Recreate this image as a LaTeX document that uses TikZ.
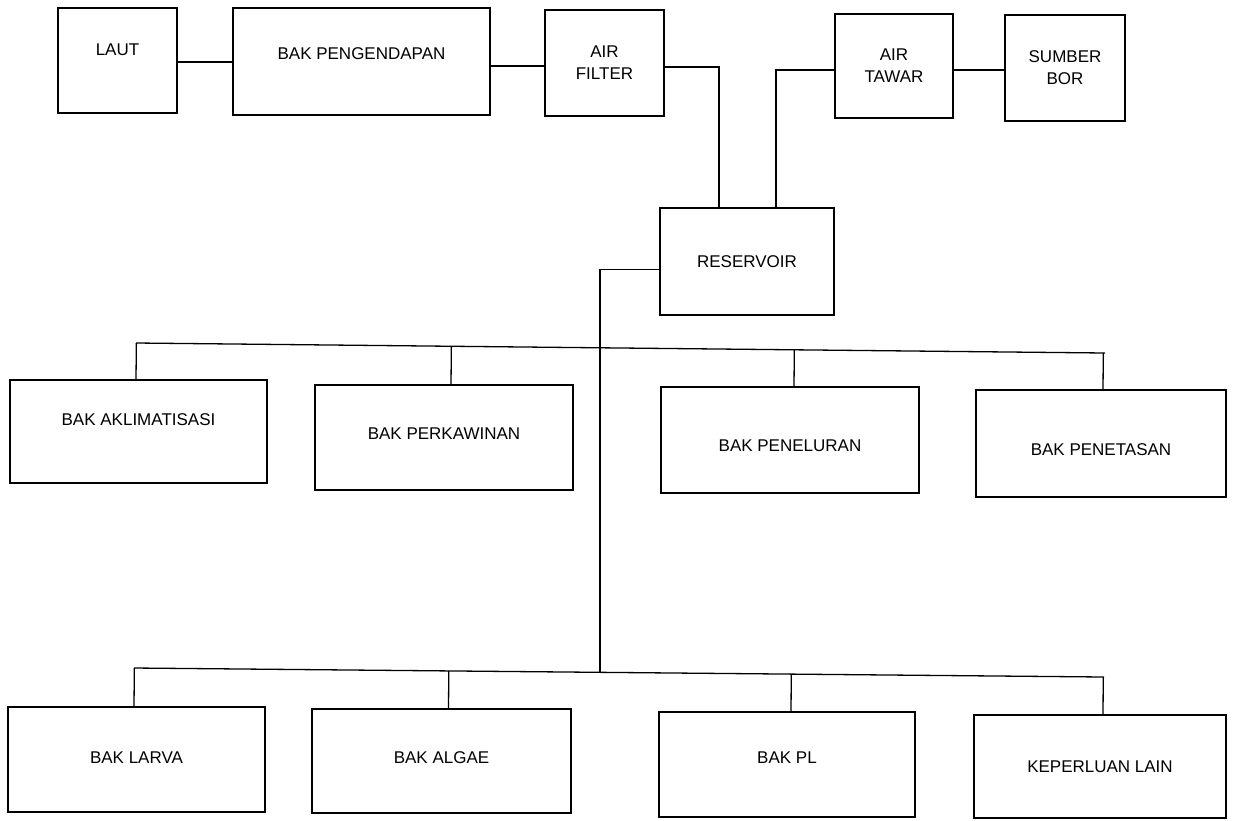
\documentclass[tikz,border=0pt]{standalone}
\usepackage{fontspec}
\setmainfont{Liberation Sans}
\usetikzlibrary{calc}
\tikzset{
  box/.style={draw, line width=1.6pt, rectangle, inner sep=0pt},
  lbl/.style={font=\fontsize{17}{22}\selectfont, align=center, inner sep=0pt},
  wire/.style={line width=1.3pt},
}
% name, x1, x2, y1, y2, text shift, text
\newcommand\mybox[7]{%
  \node[box, minimum width={#3-#2}, minimum height={#5-#4},
        label={[lbl,yshift=#6]center:{#7}}] (#1) at ({(#2+#3)/2},{-(#4+#5)/2}) {};}
\begin{document}
\begin{tikzpicture}[x=1pt,y=1pt]
\useasboundingbox (0,0) rectangle (1233,-820);
% top row
\mybox{laut}{58}{177}{8}{113}{11pt}{LAUT}
\mybox{bp}{233}{490}{8}{115}{8pt}{BAK PENGENDAPAN}
\mybox{af}{545}{664}{10}{116}{0pt}{AIR\\FILTER}
\mybox{at}{835}{953}{14}{118}{0pt}{AIR\\TAWAR}
\mybox{sb}{1005}{1125}{15}{121}{0pt}{SUMBER\\BOR}
\mybox{res}{660}{834}{208}{315}{0pt}{RESERVOIR}
% middle row
\mybox{akl}{10}{267}{380}{483}{12pt}{BAK AKLIMATISASI}
\mybox{perk}{315}{573}{385}{490}{4pt}{BAK PERKAWINAN}
\mybox{pen}{661}{919}{387}{493}{-6pt}{BAK PENELURAN}
\mybox{penet}{976}{1226}{390}{497}{-6pt}{BAK PENETASAN}
% bottom row
\mybox{larva}{8}{265}{707}{812}{2pt}{BAK LARVA}
\mybox{algae}{312}{571}{709}{813}{3pt}{BAK ALGAE}
\mybox{pl}{659}{915}{712}{817}{7pt}{BAK PL}
\mybox{kl}{974}{1226}{715}{818}{0pt}{KEPERLUAN LAIN}
% top connectors
\draw[wire] ([yshift=-1.5pt]laut.east) -- ([yshift=-1.5pt]laut.east -| bp.west);
\draw[wire] ([yshift=-3pt]af.west) -- ([yshift=-3pt]af.west -| bp.east);
\draw[wire] ([yshift=-4pt]af.east) -| ([xshift=-28pt]res.north);
\draw[wire] ([yshift=-4pt]at.west) -| ([xshift=29pt]res.north);
\draw[wire] ([yshift=-4pt]at.east) -- ([yshift=-4pt]at.east -| sb.west);
% buses
\coordinate (mL) at (136,-343);
\coordinate (mR) at (1105,-353);
\coordinate (bL) at (134,-668);
\coordinate (bR) at (1104,-677);
\draw[wire] (mL) -- (mR);
\draw[wire] (bL) -- (bR);
\coordinate (jb) at ($(bL)!(600,-670)!(bR)$);
\draw[wire] ([yshift=-8pt]res.west) -| (jb);
% middle drops
\foreach \n/\dx in {akl/-2.5pt, perk/7pt, pen/4pt, penet/2pt}
  \draw[wire] ([xshift=\dx]\n.north) -- ($(mL)!([xshift=\dx]\n.north)!(mR)$);
% bottom drops
\foreach \n/\dx in {larva/-2.5pt, algae/7pt, pl/4pt, kl/3pt}
  \draw[wire] ([xshift=\dx]\n.north) -- ($(bL)!([xshift=\dx]\n.north)!(bR)$);
\end{tikzpicture}
\end{document}
